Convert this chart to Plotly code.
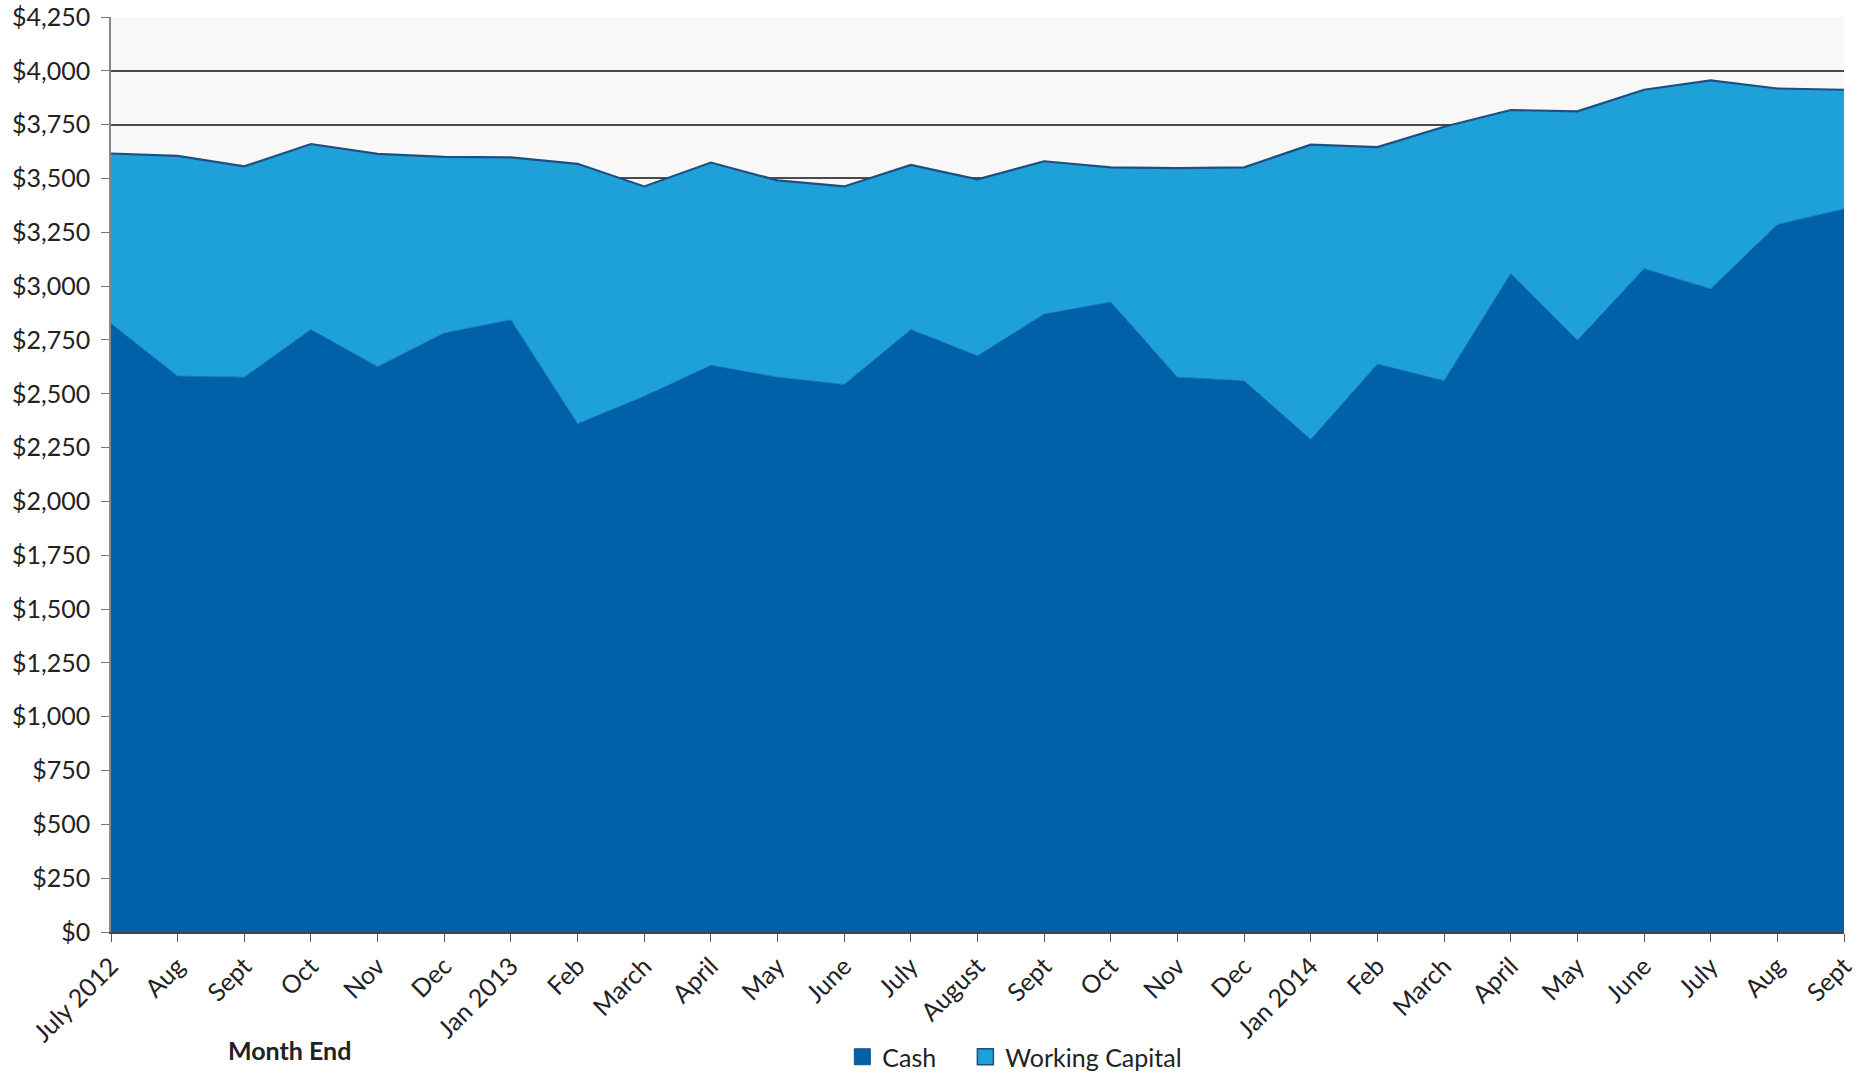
import plotly.graph_objects as go

months = ["July 2012", "Aug", "Sept", "Oct", "Nov", "Dec", "Jan 2013", "Feb", "March",
          "April", "May", "June", "July", "August", "Sept", "Oct", "Nov", "Dec",
          "Jan 2014", "Feb", "March", "April", "May", "June", "July", "Aug", "Sept"]

cash = [2826, 2582, 2577, 2798, 2626, 2782, 2843, 2361, 2488, 2632, 2577, 2543, 2798,
        2676, 2870, 2926, 2577, 2560, 2288, 2638, 2560, 3059, 2748, 3081, 2987, 3286, 3358]

total = [3616, 3605, 3556, 3660, 3614, 3600, 3598, 3568, 3463, 3574, 3491, 3463, 3563,
         3496, 3580, 3552, 3548, 3552, 3657, 3646, 3740, 3818, 3812, 3912, 3956, 3918, 3912]

working_capital = [t - c for t, c in zip(total, cash)]

y_ticks = list(range(0, 4251, 250))
y_tick_labels = ["${:,}".format(v) for v in y_ticks]

CASH_COLOR = "#0061a8"
WC_COLOR = "#1ea0d8"
EDGE = "#1d4f80"
FONT = "Lato, Calibri, Carlito, sans-serif"
FS = 25

x = list(range(len(months)))

fig = go.Figure()
fig.add_trace(go.Scatter(
    x=x, y=cash, stackgroup="one", mode="lines",
    line=dict(width=0.8, color="#0a68ae"), fillcolor=CASH_COLOR,
    name="Cash", showlegend=False, hoverinfo="skip"))
fig.add_trace(go.Scatter(
    x=x, y=working_capital, stackgroup="one", mode="lines",
    line=dict(width=2.2, color=EDGE), fillcolor=WC_COLOR,
    name="Working Capital", showlegend=False, hoverinfo="skip"))

# legend proxies
fig.add_trace(go.Scatter(
    x=[None], y=[None], mode="markers", name="Cash", legend="legend",
    marker=dict(symbol="square", size=16, color=CASH_COLOR, line=dict(color=EDGE, width=1))))
fig.add_trace(go.Scatter(
    x=[None], y=[None], mode="markers", name="Working Capital", legend="legend2",
    marker=dict(symbol="square", size=16, color=WC_COLOR, line=dict(color=EDGE, width=1.5))))

legend_common = dict(orientation="h", xanchor="left",
                     y=-(1057 - 932) / 915, yanchor="middle",
                     font=dict(size=FS, color="#222222"), itemwidth=30,
                     bgcolor="rgba(0,0,0,0)")

fig.update_layout(
    width=1868, height=1074,
    margin=dict(l=111, r=24, t=17, b=142, autoexpand=False),
    paper_bgcolor="white",
    plot_bgcolor="#f8f8f8",
    font=dict(family=FONT, size=FS, color="#222222"),
    showlegend=True,
    legend=dict(x=0.422, **legend_common),
    legend2=dict(x=0.493, **legend_common),
    xaxis=dict(
        range=[0, len(months) - 1], automargin=False,
        tickmode="array", tickvals=x, ticktext=months,
        tickangle=-45, ticks="outside", ticklen=8, tickcolor="#555555",
        showgrid=False, zeroline=False,
        showline=True, linecolor="#444444", linewidth=1.5,
        tickfont=dict(size=FS, family=FONT, color="#222222"),
    ),
    yaxis=dict(
        range=[0, 4250], automargin=False,
        tickmode="array", tickvals=y_ticks, ticktext=y_tick_labels,
        ticks="outside", ticklen=8, tickcolor="#777777", ticklabelstandoff=6,
        showgrid=True, gridcolor="#4a4a4a", gridwidth=1.5,
        zeroline=False,
        showline=True, linecolor="#888888", linewidth=1.5,
        tickfont=dict(size=FS, family=FONT, color="#222222"),
    ),
    annotations=[dict(
        text="<b>Month End</b>", xref="paper", yref="paper",
        x=(289 - 111) / 1733, y=-(1050 - 932) / 915, xanchor="center", yanchor="middle",
        showarrow=False, font=dict(size=FS, family=FONT, color="#222222"))],
)

fig.write_html("out.html")
